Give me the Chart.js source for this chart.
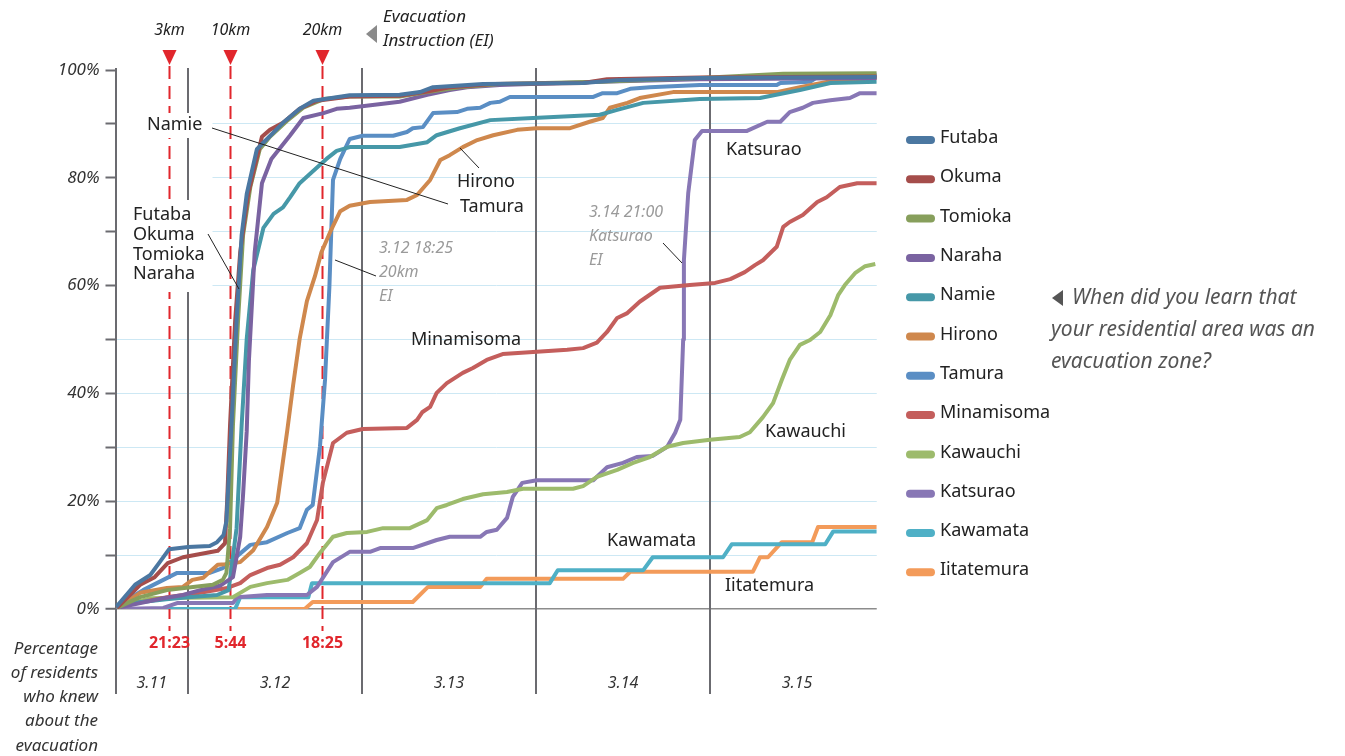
<!DOCTYPE html>
<html>
<head>
<meta charset="utf-8">
<script src="https://cdn.jsdelivr.net/npm/chart.js@4.4.0/dist/chart.umd.min.js"></script>
<style>
  body { margin: 0; background: #fff; }
  canvas { display: block; }
</style>
</head>
<body>
<canvas id="evacChart" width="1345" height="756"></canvas>
<script>
// x = hours since 3.11 00:00, y = % of residents who knew about the evacuation
const futaba = [[14.1,0.4],[16.7,4.5],[18.8,6.3],[20.1,8.7],[21.4,11.1],[24,11.5],[27.0,11.7],[28.0,12.4],[28.9,13.7],[29.3,16.3],[30.0,34.1],[30.7,53.4],[31.4,69.4],[32.1,77.0],[33.5,85.3],[34.9,87.2],[37.1,90.2],[39.4,92.8],[41.3,94.3],[46.3,95.3],[53.2,95.4],[56.0,95.9],[57.8,96.8],[64.7,97.4],[78.5,97.6],[83.2,98.1],[94.6,98.5],[119,98.7]]
const okuma = [[14.2,0.2],[17.4,4.5],[19.4,5.9],[21.2,8.5],[23.3,9.6],[25.7,10.2],[28.1,10.8],[29.1,12.2],[29.4,20.0],[29.8,34.1],[30.1,42.5],[30.5,53.4],[31.2,66.2],[32.3,77.0],[34.2,87.6],[35.3,88.9],[37.1,90.2],[39.4,92.8],[41.8,94.3],[46.3,95.1],[53.2,95.2],[57.0,96.0],[60.1,96.8],[66.1,97.4],[78.5,97.6],[81.8,98.3],[94.6,98.6],[119,98.8]]
const tomioka = [[14.2,0.2],[17.4,2.2],[21.1,3.5],[24.7,4.1],[27.4,4.5],[28.8,5.4],[29.3,6.7],[29.8,15.0],[30.2,34.1],[30.9,53.4],[31.6,69.4],[32.6,78.3],[33.9,85.3],[35.3,87.6],[37.6,90.5],[39.9,93.0],[42.7,94.6],[46.3,95.1],[53.2,95.1],[57.0,95.9],[61.5,96.8],[67.0,97.4],[80.8,97.8],[94.6,98.5],[106.1,99.3],[119,99.4]]
const naraha = [[14.2,0.2],[20.6,2.0],[23.3,2.6],[25.7,3.5],[28.4,4.3],[30.2,5.9],[31.2,13.4],[31.6,21.3],[32.1,33.0],[32.4,46.0],[33.2,66.2],[34.2,79.0],[35.5,83.5],[38.1,87.9],[39.9,91.1],[42.7,92.0],[44.5,92.8],[46.3,93.0],[53.2,94.1],[57.0,95.4],[60.1,96.3],[62.5,96.8],[67.0,97.2],[80.8,97.8],[94.6,98.3],[119,98.5]]
const namie = [[14.1,0.4],[17.0,1.2],[21.0,1.8],[24.0,2.2],[28.0,2.6],[29.6,3.5],[30.7,15.0],[31.4,34.1],[32.1,50.1],[33.0,62.9],[34.4,70.7],[35.8,73.3],[37.1,74.5],[38.1,76.4],[39.4,79.0],[41.3,81.3],[43.1,83.5],[44.5,85.0],[46.3,85.7],[53.2,85.7],[57.0,86.6],[58.3,87.9],[61.5,89.2],[65.7,90.7],[71.6,91.1],[80.8,91.7],[83.2,92.6],[86.8,93.9],[94.6,94.6],[102.9,94.8],[108.4,96.3],[112.6,97.6],[119,97.8]]
const hirono = [[14.2,0.2],[17.4,3.0],[21.1,3.9],[23.3,4.1],[24.6,5.4],[26.1,5.8],[28.1,8.2],[29.1,8.3],[31.2,8.7],[33.0,10.9],[34.9,15.2],[36.3,19.7],[37.7,33.2],[38.5,41.5],[39.4,50.1],[40.4,57.1],[41.5,61.7],[42.4,66.2],[43.6,69.9],[45.0,73.8],[46.3,74.8],[49.1,75.5],[54.2,75.9],[55.6,76.8],[57.4,79.6],[58.8,83.3],[60.1,84.2],[61.9,85.7],[63.9,87.0],[66.1,87.9],[69.4,88.9],[72.1,89.2],[76.7,89.2],[79.4,90.4],[81.2,91.1],[82.2,93.0],[84.6,93.9],[86.3,94.8],[90.9,95.9],[105.2,95.9],[108.4,96.8],[112.1,97.8],[119,98.5]]
const tamura = [[14.2,0.6],[17.8,3.5],[22.5,6.7],[27.0,6.7],[28.8,7.6],[29.8,8.7],[32.6,11.9],[34.9,12.4],[37.7,14.1],[39.4,15.0],[40.4,18.4],[41.2,19.3],[42.2,30.1],[42.9,42.5],[43.5,59.7],[44.0,79.6],[45.0,83.5],[46.3,87.2],[48.1,87.8],[52.3,87.8],[54.2,88.5],[55.0,89.2],[56.4,89.4],[57.8,92.0],[61.1,92.2],[62.5,92.8],[64.3,93.0],[65.7,93.9],[67.0,94.1],[68.4,95.0],[79.9,95.0],[81.2,95.7],[83.2,95.7],[85.0,96.5],[87.7,96.8],[94.6,97.2],[105.2,97.2],[105.7,97.6],[109.8,97.8],[110.8,98.7],[119,99.1]]
const minamisoma = [[14.2,0.4],[21.1,2.2],[25.7,3.0],[29.4,3.9],[31.2,4.8],[32.6,6.3],[34.9,7.6],[36.7,8.2],[38.5,9.6],[40.4,12.2],[41.8,16.5],[42.6,23.4],[44.0,30.8],[45.9,32.7],[48.1,33.4],[54.2,33.6],[55.6,35.1],[56.3,36.5],[57.4,37.5],[58.3,40.1],[59.7,41.9],[61.9,43.8],[63.3,44.7],[65.2,46.2],[67.4,47.3],[71.6,47.7],[76.3,48.1],[78.5,48.4],[80.4,49.4],[81.8,51.4],[83.2,54.0],[84.6,54.9],[86.3,57.0],[87.7,58.3],[89.1,59.6],[93.2,60.1],[96.7,60.5],[98.8,61.2],[100.8,62.5],[102.2,63.8],[103.3,64.7],[105.2,67.2],[106.1,70.9],[107.0,71.8],[108.8,73.1],[110.8,75.5],[112.1,76.4],[113.9,78.3],[116.3,79.0],[119,79.0]]
const kawauchi = [[14.2,0.2],[18.8,2.0],[23.3,2.1],[30.2,2.2],[32.6,4.1],[34.9,4.8],[37.7,5.4],[39.4,6.7],[40.8,7.8],[42.2,10.4],[44.0,13.4],[45.9,14.1],[48.7,14.3],[50.9,15.0],[54.6,15.0],[57.0,16.5],[58.3,18.7],[59.7,19.3],[61.9,20.4],[64.7,21.3],[68.0,21.7],[70.2,22.3],[77.1,22.3],[78.5,22.8],[80.4,24.5],[83.2,25.8],[85.4,27.1],[87.7,28.2],[90.1,30.1],[92.3,30.8],[96.0,31.4],[100.1,31.9],[101.5,32.8],[103.3,35.6],[104.7,38.2],[105.9,42.5],[107.0,46.2],[108.4,49.0],[109.8,49.9],[111.2,51.4],[112.6,54.5],[113.7,58.3],[114.6,60.1],[116.0,62.3],[117.4,63.6],[118.8,64.0]]
const katsurao = [[14.1,0],[20.6,0.2],[22.5,1.1],[30.2,1.1],[30.8,2.2],[34.9,2.6],[40.4,2.6],[41.8,4.1],[44.0,8.7],[46.3,10.6],[49.1,10.6],[50.5,11.3],[55.0,11.3],[58.3,12.8],[60.1,13.4],[64.3,13.4],[65.2,14.3],[66.6,14.7],[68.0,16.9],[68.8,20.8],[70.1,23.4],[72.1,23.9],[79.9,23.9],[81.8,26.3],[84.0,27.1],[85.9,28.2],[88.1,28.4],[90.1,30.1],[91.2,32.7],[91.9,35.1],[92.3,50.0],[92.4,64.7],[93.0,77.2],[93.9,87.0],[94.9,88.7],[101.1,88.7],[103.9,90.4],[105.7,90.4],[107.0,92.2],[108.8,93.0],[110.2,93.9],[112.6,94.4],[115.3,94.8],[116.7,95.7],[119,95.7]]
const kawamata = [[14.1,0],[30.5,0],[31.2,2.2],[40.6,2.2],[41.1,4.8],[73.9,4.8],[75.0,7.2],[86.8,7.2],[88.1,9.6],[97.8,9.6],[99.0,12.0],[111.9,12.0],[113.0,14.4],[119,14.4]]
const iitatemura = [[14.1,0],[40.1,0],[41.2,1.3],[55.0,1.3],[57.1,4.1],[64.3,4.1],[65.2,5.6],[84.0,5.6],[85.0,6.9],[101.9,6.9],[102.9,9.6],[104.0,9.6],[105.9,12.4],[110.1,12.4],[110.9,15.2],[119,15.2]]

const towns = ["Futaba", "Okuma", "Tomioka", "Naraha", "Namie", "Hirono", "Tamura", "Minamisoma", "Kawauchi", "Katsurao", "Kawamata", "Iitatemura"]
const townSeries = [futaba, okuma, tomioka, naraha, namie, hirono, tamura, minamisoma, kawauchi, katsurao, kawamata, iitatemura]
const townColors = ["#4b77a1", "#a54d4b", "#879f5c", "#7a63a1", "#4698a8", "#cf884d", "#5a8ec4", "#c45e5c", "#9dbb6c", "#8877b5", "#4fb0c6", "#f39b5a"]

// day boundaries and labels (hours since 3.11 00:00)
const dayStarts = [24, 48, 72, 96]
const dayLabels = ["3.11", "3.12", "3.13", "3.14", "3.15"]
const dayCenters = [19, 36, 60, 84, 108]

// evacuation instructions
const eiTimes = [21.383, 29.733, 42.417]
const eiClock = ["21:23", "5:44", "18:25"]
const eiRadius = ["3km", "10km", "20km"]

const SANS = '"Noto Sans", sans-serif'

function put(ctx, str, px, py, font, color, align) {
  ctx.font = font
  ctx.fillStyle = color
  ctx.textAlign = align || "left"
  ctx.textBaseline = "middle"
  ctx.fillText(str, px, py)
}

function seg(ctx, x1, y1, x2, y2) {
  ctx.beginPath()
  ctx.moveTo(x1, y1)
  ctx.lineTo(x2, y2)
  ctx.stroke()
}

const overlay = {
  id: "overlay",
  beforeDatasetsDraw(chart) {
    const { ctx, chartArea: a, scales } = chart
    const x = scales.x
    ctx.save()

    // blank the grid behind the upper-left label block
    ctx.fillStyle = "#fff"
    ctx.fillRect(a.left + 1, 98, 96, 204)

    // left axis and day dividers
    ctx.strokeStyle = "#6b6b70"
    ctx.lineWidth = 2
    const dividers = [x.min].concat(dayStarts)
    dividers.forEach(h => {
      const px = Math.round(x.getPixelForValue(h))
      seg(ctx, px, a.top - 2, px, 694)
    })

    // evacuation instruction markers
    eiTimes.forEach((h, i) => {
      const px = Math.round(x.getPixelForValue(h)) + 0.5
      ctx.strokeStyle = "#e1262c"
      ctx.lineWidth = 2
      ctx.setLineDash([13, 7])
      seg(ctx, px, 66, px, 631)
      ctx.setLineDash([])
      ctx.fillStyle = "#e1262c"
      ctx.beginPath()
      ctx.moveTo(px - 7, 50)
      ctx.lineTo(px + 7, 50)
      ctx.lineTo(px, 65)
      ctx.closePath()
      ctx.fill()
      put(ctx, eiRadius[i], px, 30, "italic 16px " + SANS, "#222", "center")
      put(ctx, eiClock[i], px, 643, "bold 16px " + SANS, "#e1262c", "center")
    })

    // white boxes behind the left labels
    ctx.fillStyle = "#fff"
    ctx.fillRect(143, 113, 64, 25)
    ctx.fillRect(128, 200, 84, 92)

    dayLabels.forEach((d, i) => {
      put(ctx, d, x.getPixelForValue(dayCenters[i]), 683, "italic 16px " + SANS, "#333", "center")
    })
    ctx.restore()
  },
  afterDatasetsDraw(chart) {
    const { ctx } = chart
    ctx.save()
    const lab = "18px " + SANS
    const ink = "#222"

    put(ctx, "Namie", 147, 125, lab, ink)
    const group = ["Futaba", "Okuma", "Tomioka", "Naraha"]
    group.forEach((t, i) => put(ctx, t, 133, 215 + i * 19.7, lab, ink))
    put(ctx, "Hirono", 457, 182, lab, ink)
    put(ctx, "Tamura", 460, 207, lab, ink)
    put(ctx, "Minamisoma", 411, 340, lab, ink)
    put(ctx, "Katsurao", 726, 150, lab, ink)
    put(ctx, "Kawauchi", 765, 432, lab, ink)
    put(ctx, "Kawamata", 607, 541, lab, ink)
    put(ctx, "Iitatemura", 725, 586, lab, ink)

    ctx.strokeStyle = "#222"
    ctx.lineWidth = 1
    seg(ctx, 212, 128, 448, 204)
    seg(ctx, 479, 168, 460, 148)
    seg(ctx, 208, 234, 239, 289)
    seg(ctx, 335, 260, 376, 276)
    seg(ctx, 663, 243, 682, 263)

    const note = "italic 16px " + SANS
    const grey = "#9a9a9a"
    put(ctx, "3.12 18:25", 379, 248, note, grey)
    put(ctx, "20km", 379, 272, note, grey)
    put(ctx, "EI", 379, 296, note, grey)
    put(ctx, "3.14 21:00", 589, 212, note, grey)
    put(ctx, "Katsurao", 589, 236, note, grey)
    put(ctx, "EI", 589, 260, note, grey)

    // header note
    ctx.fillStyle = "#8a8a8a"
    ctx.beginPath()
    ctx.moveTo(377, 25)
    ctx.lineTo(377, 43)
    ctx.lineTo(366, 34)
    ctx.closePath()
    ctx.fill()
    put(ctx, "Evacuation", 383, 17, "italic 17px " + SANS, "#222")
    put(ctx, "Instruction (EI)", 383, 41, "italic 17px " + SANS, "#222")

    // legend
    chart.data.datasets.forEach((ds, i) => {
      const ly = 140 + i * 39.3
      ctx.strokeStyle = ds.borderColor
      ctx.lineWidth = 8
      ctx.lineCap = "round"
      seg(ctx, 910, ly, 931, ly)
      put(ctx, ds.label, 940, ly - 2, lab, ink)
    })

    // side question
    ctx.fillStyle = "#555"
    ctx.beginPath()
    ctx.moveTo(1063, 290)
    ctx.lineTo(1063, 306)
    ctx.lineTo(1052, 298)
    ctx.closePath()
    ctx.fill()
    const q = "italic 21px " + SANS
    put(ctx, "When did you learn that", 1072, 298, q, "#555")
    put(ctx, "your residential area was an", 1051, 330, q, "#555")
    put(ctx, "evacuation zone?", 1051, 362, q, "#555")

    // axis caption
    const cap = ["Percentage", "of residents", "who knew", "about the", "evacuation"]
    cap.forEach((t, i) => put(ctx, t, 98, 649 + i * 24.2, "italic 17px " + SANS, "#333", "right"))
    ctx.restore()
  }
}

const datasets = townSeries.map((s, i) => ({
  label: towns[i],
  data: s.map(p => ({ x: p[0], y: p[1] })),
  borderColor: townColors[i],
  backgroundColor: townColors[i],
  borderWidth: 4,
  pointRadius: 0,
  tension: 0,
  borderJoinStyle: "round",
  fill: false,
}))

new Chart(document.getElementById("evacChart"), {
  type: "line",
  data: { datasets },
  options: {
    responsive: false,
    animation: false,
    layout: { padding: { left: 0, top: 70, right: 468.25, bottom: 147 } },
    plugins: { legend: { display: false }, tooltip: { enabled: false } },
    scales: {
      x: { type: "linear", min: 14, max: 119, display: false },
      y: {
        min: 0,
        max: 100,
        afterFit(s) { s.width = 115.5 },
        border: { display: false },
        grid: {
          color: c => c.tick.value === 0 ? "#8c8c8c" : c.tick.value === 100 ? "rgba(0,0,0,0)" : "#cde8f4",
          lineWidth: c => c.tick.value === 0 ? 1.5 : 1,
          tickColor: "#6b6b70",
          tickLength: 10,
          tickWidth: 2,
        },
        ticks: {
          stepSize: 10,
          autoSkip: false,
          padding: 6,
          color: "#333",
          font: { family: SANS, size: 17, style: "italic" },
          callback: v => v % 20 === 0 ? v + "%" : "",
        },
      },
    },
  },
  plugins: [overlay],
})
</script>
</body>
</html>
